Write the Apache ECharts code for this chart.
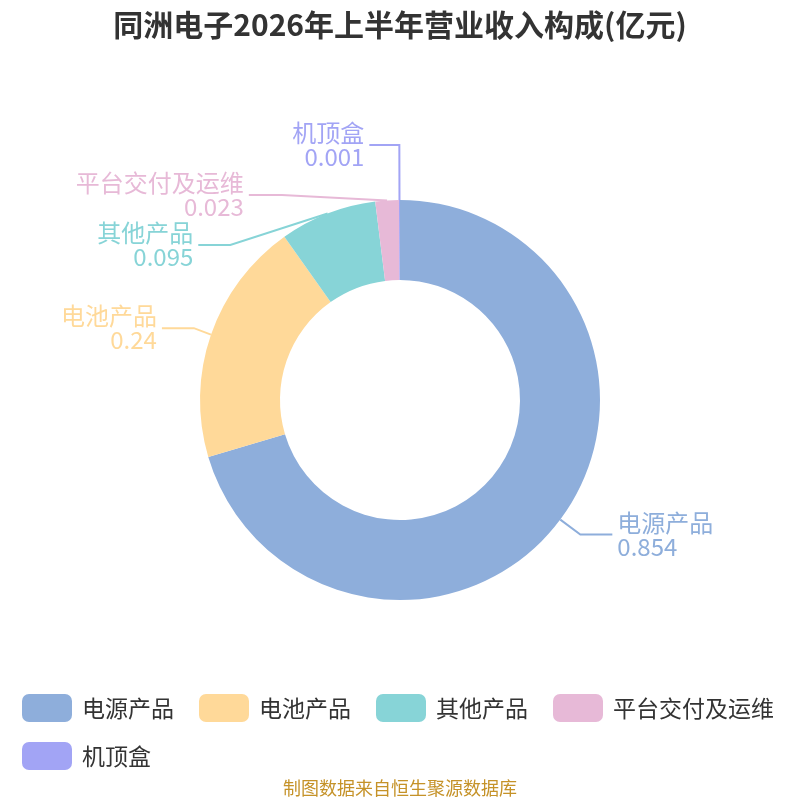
<!DOCTYPE html>
<html>
<head>
<meta charset="utf-8">
<script src="https://cdn.jsdelivr.net/npm/echarts@6/dist/echarts.min.js"></script>
<style>
html, body { margin: 0; padding: 0; background: #fff; }
#main { width: 800px; height: 800px; }
</style>
</head>
<body>
<div id="main"></div>
<script>
var names = ['电源产品', '电池产品', '其他产品', '平台交付及运维', '机顶盒'];
var values = [0.854, 0.24, 0.095, 0.023, 0.001];
var colors = ['#8eaedb', '#ffd999', '#87d4d7', '#e7b9d7', '#a2a4f5'];
// label line lengths per slice (first segment, second segment)
var lineLen = [25, 20, 20, 7, 55];
var lineLen2 = [32, 32, 32, 33, 30];

var chart = echarts.init(document.getElementById('main'));

var data = names.map(function (n, i) {
    return {
        name: n,
        value: values[i],
        labelLine: { length: lineLen[i], length2: lineLen2[i] }
    };
});

var font = '"Noto Sans CJK SC", "Noto Sans", sans-serif';

chart.setOption({
    color: colors,
    textStyle: { fontFamily: font },
    title: {
        text: '同洲电子2026年上半年营业收入构成(亿元)',
        left: 'center',
        top: 5,
        textStyle: {
            fontFamily: font,
            fontSize: 30,
            fontWeight: 'bold',
            color: '#333'
        }
    },
    legend: {
        data: names,
        left: 22,
        right: 10,
        top: 694,
        padding: 0,
        itemWidth: 50,
        itemHeight: 28,
        itemGap: 20,
        icon: 'roundRect',
        textStyle: {
            fontFamily: font,
            fontSize: 23,
            lineHeight: 28,
            color: '#333',
            padding: [0, 5, 0, 5]
        }
    },
    graphic: [{
        type: 'text',
        left: 'center',
        top: 779,
        style: {
            text: '制图数据来自恒生聚源数据库',
            fill: '#c59228',
            fontFamily: font,
            fontSize: 18
        }
    }],
    series: [{
        type: 'pie',
        center: ['50%', '50%'],
        radius: ['30%', '50%'],
        startAngle: 90,
        clockwise: true,
        avoidLabelOverlap: true,
        label: {
            formatter: '{b}\n{c}',
            fontFamily: font,
            fontSize: 24,
            lineHeight: 24,
            color: 'inherit'
        },
        labelLine: {
            length: 22,
            length2: 32,
            lineStyle: { width: 2 }
        },
        data: data
    }]
});
</script>
</body>
</html>
